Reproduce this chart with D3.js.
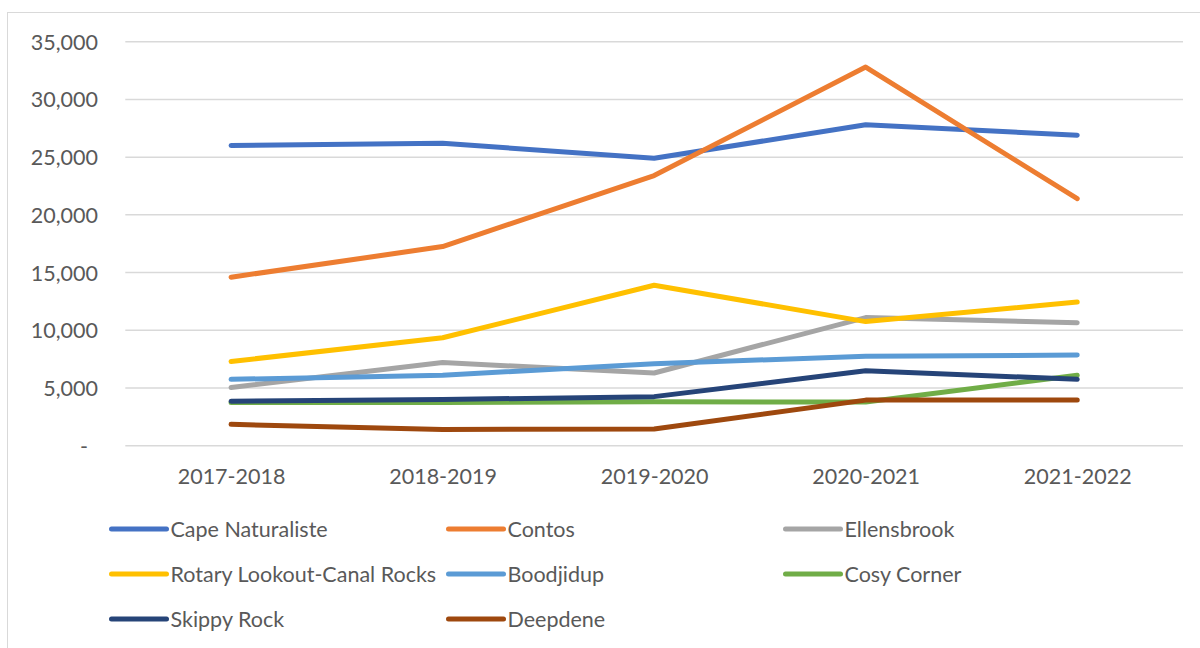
<!DOCTYPE html>
<html>
<head>
<meta charset="utf-8">
<script src="https://cdn.jsdelivr.net/npm/d3@7"></script>
<style>
  html, body { margin: 0; padding: 0; background: #ffffff; }
  svg { display: block; }
  text { font-family: Lato, "Open Sans", sans-serif; fill: #595959; }
</style>
</head>
<body>
<svg id="chart" width="1200" height="648"></svg>
<script>
// Visitor numbers per site, by financial year
const categories = ["2017-2018", "2018-2019", "2019-2020", "2020-2021", "2021-2022"];
const seriesNames = ["Cape Naturaliste", "Contos", "Ellensbrook", "Rotary Lookout-Canal Rocks",
                     "Boodjidup", "Cosy Corner", "Skippy Rock", "Deepdene"];
const capeNaturaliste = [26000, 26200, 24900, 27800, 26900];
const contos          = [14600, 17250, 23400, 32800, 21400];
const ellensbrook     = [5050, 7200, 6300, 11100, 10650];
const rotaryLookout   = [7300, 9350, 13900, 10750, 12450];
const boodjidup       = [5750, 6100, 7100, 7750, 7850];
const cosyCorner      = [3750, 3750, 3800, 3780, 6100];
const skippyRock      = [3850, 4000, 4250, 6500, 5750];
const deepdene        = [1850, 1400, 1450, 3950, 3950];
const yTicks = [0, 5000, 10000, 15000, 20000, 25000, 30000, 35000];
const colors = ["#4472C4", "#ED7D31", "#A5A5A5", "#FFC000", "#5B9BD5", "#70AD47", "#264478", "#9E480E"];

const seriesValues = [capeNaturaliste, contos, ellensbrook, rotaryLookout,
                      boodjidup, cosyCorner, skippyRock, deepdene];
const series = seriesNames.map((name, i) => ({ name, color: colors[i], values: seriesValues[i] }));

const svg = d3.select("#chart");

// chart frame
svg.append("rect")
  .attr("x", 7.5).attr("y", 12.5)
  .attr("width", 1220).attr("height", 660)
  .attr("fill", "none").attr("stroke", "#d9d9d9").attr("stroke-width", 1);

const plot = { left: 125.3, right: 1183, top: 41.7, bottom: 445.7 };

const x = d3.scalePoint().domain(categories).range([plot.left, plot.right]).padding(0.5);
const y = d3.scaleLinear().domain([0, 35000]).range([plot.bottom, plot.top]);

// horizontal gridlines
svg.append("g")
  .selectAll("line")
  .data(yTicks)
  .join("line")
  .attr("x1", plot.left).attr("x2", plot.right)
  .attr("y1", d => y(d)).attr("y2", d => y(d))
  .attr("stroke", "#d9d9d9").attr("stroke-width", 1.5);

// y axis labels (accounting style: zero shown as a dash)
const fmt = d3.format(",");
const yAxis = d3.axisLeft(y)
  .tickValues(yTicks)
  .tickSize(0)
  .tickPadding(0)
  .tickFormat(d => d === 0 ? "-" : fmt(d));
const yg = svg.append("g").attr("transform", "translate(98,0)").call(yAxis);
yg.select(".domain").remove();
yg.selectAll("text")
  .attr("font-size", 21.5)
  .attr("font-family", "Lato, 'Open Sans', sans-serif")
  .attr("fill", "#595959")
  .attr("dy", "0.35em")
  .attr("dx", d => d === 0 ? -10 : 0);

// x axis labels
const xAxis = d3.axisBottom(x).tickSize(0).tickPadding(0);
const xg = svg.append("g").attr("transform", `translate(0,${plot.bottom})`).call(xAxis);
xg.select(".domain").remove();
xg.selectAll("text")
  .attr("font-size", 21.5)
  .attr("font-family", "Lato, 'Open Sans', sans-serif")
  .attr("fill", "#595959")
  .attr("y", 31)
  .attr("dy", "0.35em");

// series lines
const line = d3.line()
  .x((d, i) => x(categories[i]))
  .y(d => y(d));

svg.append("g")
  .selectAll("path")
  .data(series)
  .join("path")
  .attr("d", d => line(d.values))
  .attr("fill", "none")
  .attr("stroke", d => d.color)
  .attr("stroke-width", 5)
  .attr("stroke-linecap", "round")
  .attr("stroke-linejoin", "round");

// legend: three columns, row-major order
const legendCols = [111.5, 448.5, 785.5];
const legendRows = [529, 574, 619];
const legend = svg.append("g")
  .selectAll("g")
  .data(series)
  .join("g")
  .attr("transform", (d, i) => `translate(${legendCols[i % 3]},${legendRows[Math.floor(i / 3)]})`);

legend.append("line")
  .attr("x1", 0).attr("x2", 55)
  .attr("y1", 0).attr("y2", 0)
  .attr("stroke", d => d.color)
  .attr("stroke-width", 5)
  .attr("stroke-linecap", "round");

legend.append("text")
  .attr("x", 59)
  .attr("y", 0)
  .attr("dy", "0.35em")
  .attr("font-size", 21.5)
  .text(d => d.name);
</script>
</body>
</html>
